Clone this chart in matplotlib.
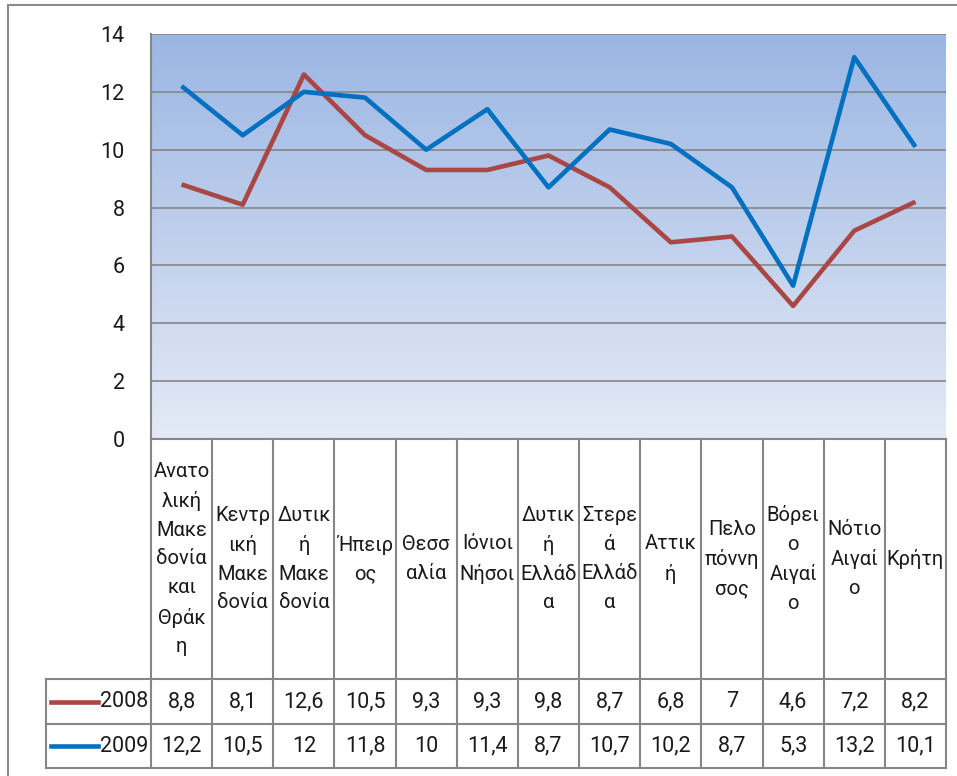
import numpy as np
import matplotlib.pyplot as plt
from matplotlib.patches import Rectangle

plt.rcParams['font.family'] = ['Roboto', 'DejaVu Sans']

regions = ["Ανατο\nλική\nΜακε\nδονία\nκαι\nΘράκ\nη", "Κεντρ\nική\nΜακε\nδονία",
           "Δυτικ\nή\nΜακε\nδονία", "Ήπειρ\nος", "Θεσσ\nαλία", "Ιόνιοι\nΝήσοι",
           "Δυτικ\nή\nΕλλάδ\nα", "Στερε\nά\nΕλλάδ\nα", "Αττικ\nή", "Πελο\nπόννη\nσος",
           "Βόρει\nο\nΑιγαί\nο", "Νότιο\nΑιγαί\nο", "Κρήτη"]
v2008 = [8.8, 8.1, 12.6, 10.5, 9.3, 9.3, 9.8, 8.7, 6.8, 7, 4.6, 7.2, 8.2]
v2009 = [12.2, 10.5, 12, 11.8, 10, 11.4, 8.7, 10.7, 10.2, 8.7, 5.3, 13.2, 10.1]
years = ["2008", "2009"]
yticks = [0, 2, 4, 6, 8, 10, 12, 14]

red = '#AA4643'
blue = '#0070C0'
grid = '#868686'
txt = '#1a1a1a'

W, H = 957, 776
fig = plt.figure(figsize=(W / 100, H / 100), dpi=100)

# outer chart border
fig.patches.append(Rectangle((8 / W, -0.1), 1.2, (H - 5) / H + 0.1, transform=fig.transFigure,
                             fill=False, edgecolor='#8c8c8c', linewidth=1.5))

x0, x1, ytop, ybot = 151, 946, 34, 439
ax = fig.add_axes([x0 / W, (H - ybot) / H, (x1 - x0) / W, (ybot - ytop) / H])
n = len(regions)
x = np.arange(n)
ax.set_xlim(-0.5, n - 0.5)
ax.set_ylim(0, 14)

# gradient background
grad = np.linspace(0, 1, 256).reshape(-1, 1)
top = np.array([0x9B, 0xB6, 0xE3]) / 255
bot = np.array([0xE4, 0xEA, 0xF6]) / 255
img = top * (1 - grad[..., None]) + bot * grad[..., None]
ax.imshow(img, extent=[0, 1, 0, 1], transform=ax.transAxes, aspect='auto', zorder=0)

for y in yticks[1:]:
    ax.axhline(y, color=grid, linewidth=1.2, zorder=1)

ax.plot(x, v2008, color=red, linewidth=3.3, zorder=3, solid_capstyle='butt')
ax.plot(x, v2009, color=blue, linewidth=3.3, zorder=4, solid_capstyle='butt')

ax.set_yticks(yticks)
ax.set_yticklabels([str(v) for v in yticks], fontsize=15.5, color=txt)
ax.tick_params(axis='y', length=0, pad=19)
ax.set_xticks([])
for s in ['top', 'right']:
    ax.spines[s].set_visible(False)
ax.spines['left'].set_color(grid)
ax.spines['left'].set_linewidth(1.5)
ax.spines['bottom'].set_color(grid)
ax.spines['bottom'].set_linewidth(1.5)

# data table below the plot
tl, tb = 46, 768
unit = (x1 - x0) / n
left_u = -0.5 - (x0 - tl) / unit
axt = fig.add_axes([tl / W, (H - tb) / H, (x1 - tl) / W, (tb - ybot) / H])
axt.set_xlim(left_u, n - 0.5)
axt.set_ylim(tb - ybot, 0)
axt.axis('off')
r1, r2, r3 = 240, 285, 329
lw = 1.5
for k in range(n + 1):
    axt.plot([k - 0.5, k - 0.5], [0, r3], color=grid, linewidth=lw, clip_on=False)
axt.plot([left_u, left_u], [r1, r3], color=grid, linewidth=lw, clip_on=False)
for yy in [r1, r2, r3]:
    axt.plot([left_u, n - 0.5], [yy, yy], color=grid, linewidth=lw, clip_on=False)

for i, name in enumerate(regions):
    axt.text(i, r1 / 2, name, ha='center', va='center', fontsize=14.5,
             linespacing=1.65, color=txt)

rows = [(v2008, red, (r1 + r2) / 2), (v2009, blue, (r2 + r3) / 2)]
for (vals, c, yc), lab in zip(rows, years):
    for i, v in enumerate(vals):
        axt.text(i, yc, ('%g' % v).replace('.', ','), ha='center', va='center',
                 fontsize=15.5, color=txt)
    axt.plot([left_u + 5 / unit, left_u + 52 / unit], [yc, yc], color=c, linewidth=3.3,
             clip_on=False)
    axt.text(-0.5 - 3 / unit, yc, lab, ha='right', va='center', fontsize=15.5, color=txt)

fig.savefig('out.png', dpi=100)
